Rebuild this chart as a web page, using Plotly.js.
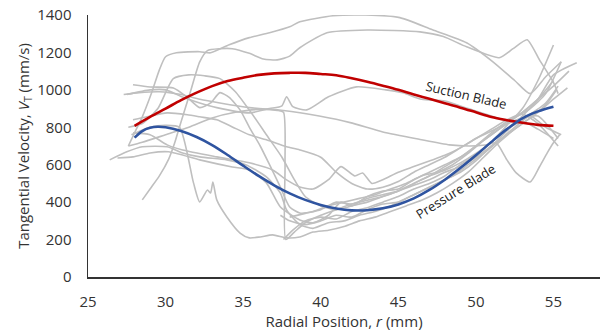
<!DOCTYPE html>
<html><head><meta charset="utf-8">
<script src="https://cdn.plot.ly/plotly-3.0.1.min.js"></script>
<style>html,body{margin:0;padding:0;background:#fff}#chart{width:600px;height:336px}</style>
</head><body><div id="chart"></div>
<script>
// ---- Data ----
const suctionX = [28,29,30,31,32,33,34,35,36,37,38,39,40,41,42,43,44,45,46,47,48,49,50,51,52,53,54,55];
const suctionY = [808,856,900,945,985,1020,1047,1065,1080,1088,1091,1091,1085,1078,1062,1043,1022,1000,975,952,928,905,880,855,838,824,813,808];
const pressureX = [28,28.5,29,29.5,30,31,32,33,34,35,36,37,38,39,40,41,42,43,44,45,46,47,48,49,50,51,52,53,54,55];
const pressureY = [745,780,797,803,800,780,748,705,652,595,540,490,447,412,385,366,356,357,367,388,420,465,520,582,650,722,790,848,885,910];

const g01X = [28.5,29.0,29.6,30.2,30.6,31.0,31.6,32.2,32.7,33.5,34.3,35.4,36.3,37.2,38.0,38.65,40.4,43.0,46.4,47.9,49.4,51.5,52.4,53.3,54.1,55.0,55.3];
const g01Y = [412,470,540,630,720,830,990,1150,1210,1220,1220,1195,1165,1160,1180,1225,1305,1320,1310,1285,1230,1172,1220,1268,1160,1040,980];
const g02X = [27.6,28.0,28.5,29.1,29.6,30.0,30.7,32.2,32.9,34.1,35.4,36.7,38.0,38.65,40.8,42.9,45.1,47.2,49.4,51.1,52.5,53.5,54.5,55.5];
const g02Y = [700,770,856,984,1107,1177,1198,1204,1198,1241,1279,1305,1337,1364,1396,1400,1386,1321,1252,1150,1050,980,1070,1150];
const g03X = [27.3,28.3,29.6,31.0,32.2,33.5,35.4,37.6,39.9,41.9,44.0,46.4,48.3,49.6,50.6,51.3,52.0,52.6,53.5,54.1,54.6,55.0,55.4];
const g03Y = [975,985,990,975,950,930,905,890,860,825,775,735,706,700,705,717,626,556,508,589,663,717,760];
const g04X = [27.5,29,30,31,32.2,33.3,35.4,36.7,37.5,37.8,38.2,39.1,40.5,42.3,44.2,45.3,46.5,48,49.5,51,52.3,53.3,54.5,55.3];
const g04Y = [975,1000,1000,965,930,905,877,900,915,963,910,893,963,1016,1000,984,950,940,900,860,830,860,930,1020];
const g05X = [27.9,29,30.5,31.4,32.2,32.9,33.5,34.1,34.8,35.4,36.1,36.7,37.4,38,38.65,39.5,40.5,41.5,42.5,43.5,44.5,45.5,46.5,47.5,48.5,49.5,50.5,51.5,52.5,53.5,54.5,55.5];
const g05Y = [1027,1015,1010,960,905,930,985,960,893,800,700,600,480,374,342,350,380,400,420,440,470,500,540,560,600,660,730,790,850,900,980,1150];
const g06X = [27.6,28.5,29.5,30.5,31.5,32.5,33.5,34.5,35.5,36.5,37.5,38.3,39,40,41,42,43,44,45,46,47,48,49,50,51,52,53,54,55];
const g06Y = [800,820,900,1060,1080,1075,1060,990,880,760,640,520,430,380,360,380,400,430,460,500,540,590,640,700,760,820,880,950,1050];
const g07X = [27.8,29,30,30.9,31.8,32.2,32.7,32.9,33.05,33.3,33.95,34.8,35.4,36.1,36.9,37.8,38.65,39.5,40.5,41.5,42.5,43.5,44.5,45.5,46.5,47.5,48.5,49.5,50.5,51.5,52.5,53.5,54.5,55.2];
const g07Y = [760,800,810,800,503,401,465,449,508,412,321,235,209,214,225,209,214,240,250,270,300,320,350,380,410,450,500,560,640,720,790,850,920,1000];
const g08X = [26.4,27.5,28.5,30.1,31.1,32.2,33.95,35.2,36.5,37.4,37.8,38.65,39.5,40.5,41.5,42.5,43.5,44.5,45.5,46.5,47.5,48.5,49.5,50.5,51.5,52.5,53.5,54.5,55.5];
const g08Y = [626,669,696,696,663,642,626,599,535,449,358,280,260,290,300,330,350,380,420,460,500,540,600,660,730,800,860,800,760];
const g09X = [26.9,27.9,29.0,30.2,32.2,34.3,35.4,36.5,37.4,38.65,39.5,40.5,41.3,42,43,44,45,46,47,48,49,50,51,52,53,54,55.3];
const g09Y = [636,642,663,669,626,588,572,503,374,305,290,330,400,380,430,460,470,520,560,600,640,700,770,830,870,820,700];
const g10X = [27.9,29.0,30.1,31.1,33.3,35.4,36.9,37.8,38.65,39.5,40.5,41.3,42.2,42.7,43.3,44,45,46,47,48,49,50,51,52,53,54,55.3];
const g10Y = [770,760,706,679,642,610,572,519,481,470,520,590,540,556,500,520,560,590,620,650,690,740,780,820,850,860,740];
const g11X = [27.9,28.8,30.1,31.4,32.2,33.3,34.3,35.4,36.5,37.8,38.65,40,41,42,43,44,45,46,47,48,49,50,51,52,53,54,55,56];
const g11Y = [840,856,877,867,856,840,802,760,733,696,679,640,560,500,470,480,510,560,600,640,690,740,790,840,880,950,1020,1100];
const g12X = [37.4,38,39,40,41,42,43,44,45,46,47,48,49,50,51,52,53,54,55,56.5];
const g12Y = [330,300,280,300,330,320,360,390,400,440,480,520,560,620,700,780,860,950,1080,1145];
const g13X = [37.6,38.2,39,40,41,42,43,44,45,46,47,48,49,50,51,52,53,54,55.0];
const g13Y = [200,250,300,320,310,350,370,400,430,470,500,540,600,650,720,810,900,1050,1240];
const g14X = [38,39,40,41,42,43,44,45,46,47,48,49,50,51,52,53,54,55,55.9];
const g14Y = [320,340,360,400,390,420,440,460,490,520,560,590,640,700,760,820,880,950,1011];
const g15X = [27.6,28.5,30,31.5,33,34.5,36,37.2,37.6,37.7,37.75,38.3,39,40,41,42,43,44,45,46,47,48,49,50,51,52,53,54,55];
const g15Y = [700,720,760,800,850,880,895,890,880,600,200,240,290,330,360,390,410,430,460,500,540,570,610,660,720,790,830,790,740];

const grayXs = [g01X,g02X,g03X,g04X,g05X,g06X,g07X,g08X,g09X,g10X,g11X,g12X,g13X,g14X,g15X];
const grayYs = [g01Y,g02Y,g03Y,g04Y,g05Y,g06Y,g07Y,g08Y,g09Y,g10Y,g11Y,g12Y,g13Y,g14Y,g15Y];

const xTicks = [25,30,35,40,45,50,55];
const yTicks = [0,200,400,600,800,1000,1200,1400];

// ---- Traces ----
const traces = [];
for (let i = 0; i < grayXs.length; i++) {
  traces.push({x: grayXs[i], y: grayYs[i], mode:'lines', type:'scatter',
    line:{color:'#BFBFBF', width:1.6, shape:'spline', smoothing:0.6}, hoverinfo:'skip', showlegend:false});
}
traces.push({x: suctionX, y: suctionY, mode:'lines', type:'scatter', name:'Suction Blade',
  line:{color:'#C00000', width:2.6, shape:'spline'}, showlegend:false});
traces.push({x: pressureX, y: pressureY, mode:'lines', type:'scatter', name:'Pressure Blade',
  line:{color:'#2F54A0', width:2.6, shape:'spline'}, showlegend:false});

const fontFam = '"Open Sans", "Liberation Sans", sans-serif';
const layout = {
  width:600, height:336,
  margin:{l:88, r:0, t:15, b:59},
  paper_bgcolor:'#fff', plot_bgcolor:'#fff',
  font:{family:fontFam, size:14, color:'#333'},
  showlegend:false,
  xaxis:{range:[25,58], tickvals:xTicks, ticktext:xTicks.map(String), showgrid:false, zeroline:false,
    showline:true, linecolor:'#333', linewidth:1.5, ticks:'outside', ticklen:10, tickcolor:'rgba(0,0,0,0)',
    tickfont:{size:15, color:'#333'},
    title:{text:'Radial Position, <i>r</i> (mm)', font:{size:15, color:'#333'}, standoff:6}},
  yaxis:{range:[0,1400], tickvals:yTicks, ticktext:yTicks.map(String), showgrid:false, zeroline:false,
    showline:true, linecolor:'#333', linewidth:1.5, ticks:'outside', ticklen:12, tickcolor:'rgba(0,0,0,0)',
    tickfont:{size:15, color:'#333'},
    title:{text:'Tangential Velocity, <i>V</i><sub>T</sub> (mm/s)', font:{size:15, color:'#333'}, standoff:4}},
  annotations:[
    {x:49.4, y:974, xref:'x', yref:'y', text:'Suction Blade', showarrow:false, textangle:13,
     font:{size:13, color:'#222', family:fontFam}},
    {x:48.7, y:460, xref:'x', yref:'y', text:'Pressure Blade', showarrow:false, textangle:-32,
     font:{size:13, color:'#222', family:fontFam}}
  ]
};
Plotly.newPlot('chart', traces, layout, {displayModeBar:false, staticPlot:true});
</script>
</body></html>
